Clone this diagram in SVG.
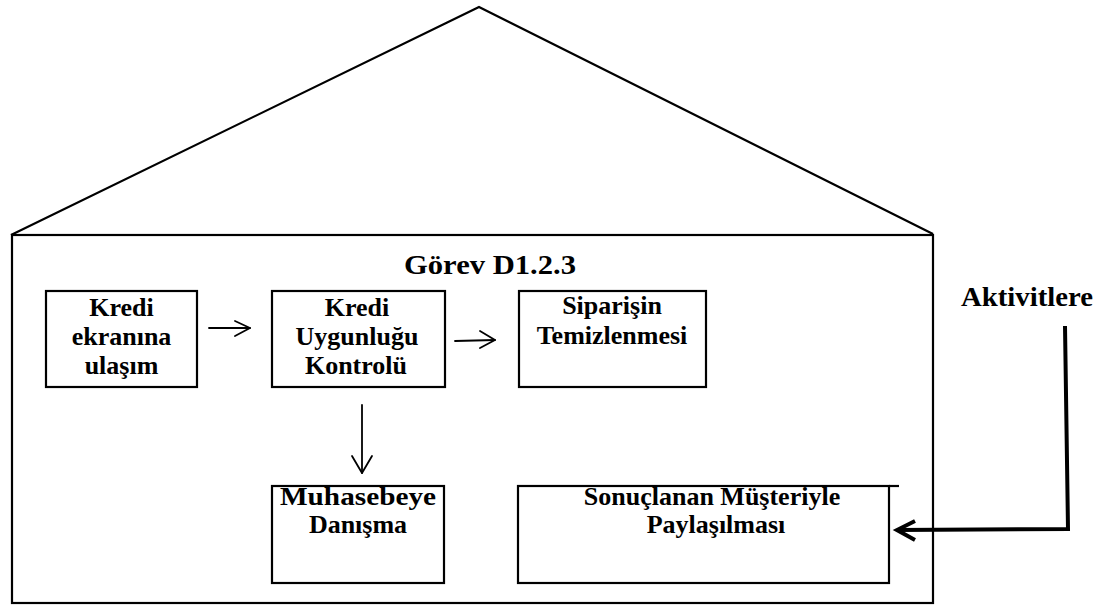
<svg xmlns="http://www.w3.org/2000/svg" width="1103" height="605" viewBox="0 0 1103 605">
  <defs>
    <style>
      .frame { fill: none; stroke: #000; stroke-width: 2.2; }
      .box { fill: #fff; stroke: #000; stroke-width: 2.2; }
      .lbl { font-family: "Liberation Serif", "Times New Roman", serif; font-weight: bold; font-size: 26px; fill: #000; text-anchor: middle; }
      .big { font-size: 28px; }
      .thin { fill: none; stroke: #000; stroke-width: 1.8; stroke-linecap: round; stroke-linejoin: round; }
      .thick { fill: none; stroke: #000; stroke-width: 4; stroke-linejoin: miter; }
    </style>
  </defs>
  <rect width="1103" height="605" fill="#fff"/>

  <!-- house outline: roof and body -->
  <g id="house">
    <polyline class="frame" points="11,235 479,7 933,234"/>
    <rect class="frame" x="12" y="235" width="921" height="368"/>
    <text class="lbl big" x="490" y="274" textLength="172" lengthAdjust="spacingAndGlyphs">Görev D1.2.3</text>
  </g>

  <g id="n1">
    <rect class="box" x="46" y="291" width="151" height="96"/>
    <text class="lbl" x="121.5" y="316">Kredi</text>
    <text class="lbl" x="121.5" y="345">ekranına</text>
    <text class="lbl" x="121.5" y="374">ulaşım</text>
  </g>

  <g id="n2">
    <rect class="box" x="272" y="291" width="173" height="96"/>
    <text class="lbl" x="357" y="316">Kredi</text>
    <text class="lbl" x="357" y="345">Uygunluğu</text>
    <text class="lbl" x="356" y="374">Kontrolü</text>
  </g>

  <g id="n3">
    <rect class="box" x="519" y="291" width="187" height="96"/>
    <text class="lbl" x="612" y="314">Siparişin</text>
    <text class="lbl" x="612" y="344">Temizlenmesi</text>
  </g>

  <g id="n4">
    <rect class="box" x="272" y="486" width="172" height="97"/>
    <text class="lbl" x="358" y="505" textLength="156" lengthAdjust="spacingAndGlyphs">Muhasebeye</text>
    <text class="lbl" x="358" y="533">Danışma</text>
  </g>

  <g id="n5">
    <rect class="box" x="518" y="486" width="371" height="97"/>
    <line class="frame" x1="889" y1="486" x2="899" y2="486"/>
    <text class="lbl" x="712" y="505">Sonuçlanan Müşteriyle</text>
    <text class="lbl" x="716" y="533">Paylaşılması</text>
  </g>

  <g id="n6">
    <text class="lbl big" x="1027" y="306" textLength="132" lengthAdjust="spacingAndGlyphs">Aktivitlere</text>
  </g>

  <g id="connectors">
    <!-- n1 -> n2 -->
    <line class="thin" x1="209" y1="328" x2="250" y2="328"/>
    <polyline class="thin" points="235,321 250,328 235,336"/>
    <!-- n2 -> n3 -->
    <line class="thin" x1="455" y1="341" x2="495" y2="340"/>
    <polyline class="thin" points="480,331 495,340 480,348"/>
    <!-- n2 -> n4 -->
    <line class="thin" x1="362" y1="405" x2="362" y2="473"/>
    <polyline class="thin" points="352,456 362,473 372,456"/>
    <!-- n6 -> n5 -->
    <polyline class="thick" points="1065,326 1068,529 897,530"/>
    <polyline class="thick" points="915,521 897,530 915,540"/>
  </g>
</svg>
